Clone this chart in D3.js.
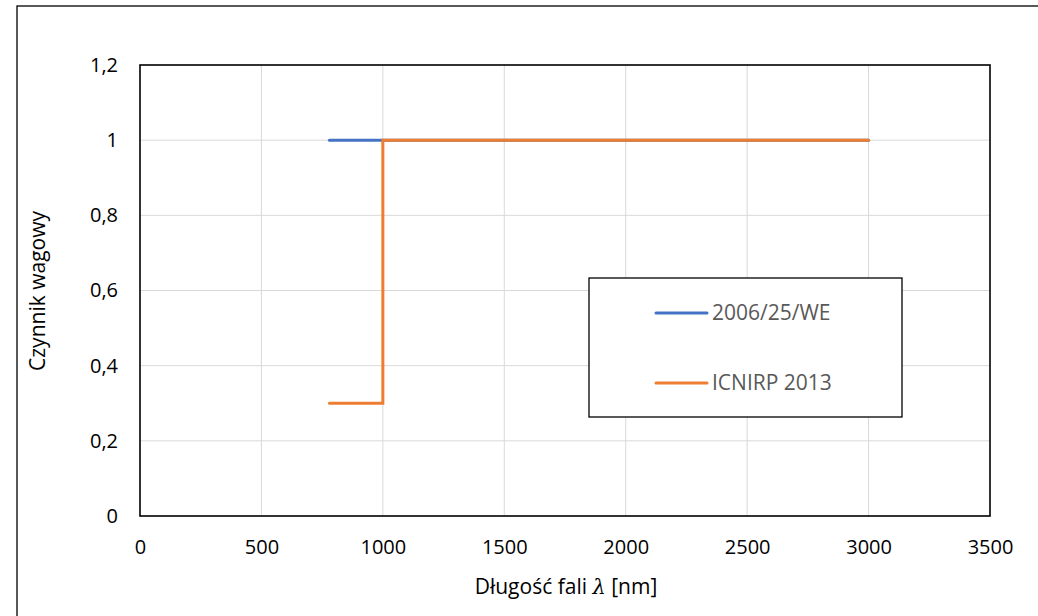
<!DOCTYPE html>
<html>
<head>
<meta charset="utf-8">
<script src="https://cdn.jsdelivr.net/npm/d3@7"></script>
<style>
  body { margin: 0; background: #fff; }
  text { font-family: "Open Sans", "Noto Sans", sans-serif; }
</style>
</head>
<body>
<svg id="chart" width="1038" height="616"></svg>
<script>
// data
const seriesNames = ["2006/25/WE", "ICNIRP 2013"];
const weX = [780, 1000, 3000];
const weY = [1, 1, 1];
const icnirpX = [780, 1000, 1000, 3000];
const icnirpY = [0.3, 0.3, 1, 1];
const xTicks = [0, 500, 1000, 1500, 2000, 2500, 3000, 3500];
const yTicks = [0, 0.2, 0.4, 0.6, 0.8, 1, 1.2];
const colors = ["#4472C4", "#ED7D31"];

const svg = d3.select("#chart");
const m = { left: 140, top: 65, right: 990, bottom: 516 };

// outer chart frame
svg.append("rect").attr("x", 17).attr("y", 6).attr("width", 1040).attr("height", 640)
  .attr("fill", "none").attr("stroke", "#000").attr("stroke-width", 1.3);

const x = d3.scaleLinear().domain([0, 3500]).range([m.left, m.right]);
const y = d3.scaleLinear().domain([0, 1.2]).range([m.bottom, m.top]);
const fmt = d => String(d).replace(".", ",");

// gridlines
svg.append("g").selectAll("line").data(xTicks.slice(1, -1)).join("line")
  .attr("x1", d => x(d)).attr("x2", d => x(d)).attr("y1", m.top).attr("y2", m.bottom)
  .attr("stroke", "#d9d9d9").attr("stroke-width", 1);
svg.append("g").selectAll("line").data(yTicks.slice(1, -1)).join("line")
  .attr("x1", m.left).attr("x2", m.right).attr("y1", d => y(d)).attr("y2", d => y(d))
  .attr("stroke", "#d9d9d9").attr("stroke-width", 1);

// axes (labels only)
const xAxis = svg.append("g").attr("transform", `translate(0,547)`)
  .call(d3.axisBottom(x).tickValues(xTicks).tickFormat(fmt).tickSize(0));
xAxis.selectAll("text").attr("y", 0).attr("dy", "0.35em");
const yAxis = svg.append("g").attr("transform", `translate(121,0)`)
  .call(d3.axisLeft(y).tickValues(yTicks).tickFormat(fmt).tickSize(0));
[xAxis, yAxis].forEach(a => {
  a.select(".domain").remove();
  a.selectAll("text").attr("font-size", 20).attr("fill", "#000")
    .style("font-family", '"Open Sans", sans-serif');
});

// plot border
svg.append("rect").attr("x", m.left).attr("y", m.top)
  .attr("width", m.right - m.left).attr("height", m.bottom - m.top)
  .attr("fill", "none").attr("stroke", "#000").attr("stroke-width", 1.6);

// series
const line = d3.line().x(d => x(d[0])).y(d => y(d[1]));
const series = [d3.zip(weX, weY), d3.zip(icnirpX, icnirpY)];
series.forEach((s, i) => {
  svg.append("path").datum(s).attr("d", line).attr("fill", "none")
    .attr("stroke", colors[i]).attr("stroke-width", 3).attr("stroke-linecap", "round")
    .attr("stroke-linejoin", "miter");
});

// legend
svg.append("rect").attr("x", 589).attr("y", 278).attr("width", 313).attr("height", 139)
  .attr("fill", "#fff").attr("stroke", "#000").attr("stroke-width", 1.3);
seriesNames.forEach((n, i) => {
  const ly = 313 + i * 70;
  svg.append("line").attr("x1", 656).attr("x2", 707).attr("y1", ly).attr("y2", ly)
    .attr("stroke", colors[i]).attr("stroke-width", 3).attr("stroke-linecap", "round");
  svg.append("text").attr("x", 712).attr("y", ly).attr("dy", "0.35em")
    .attr("font-size", 21).attr("fill", "#595959").text(n);
});

// axis titles
const xt = svg.append("text").attr("x", 566).attr("y", 594).attr("text-anchor", "middle")
  .attr("font-size", 21).attr("fill", "#000");
xt.append("tspan").text("Długość fali ");
xt.append("tspan").attr("font-style", "italic").style("font-family", '"DejaVu Serif", serif').text("λ");
xt.append("tspan").text(" [nm]");
svg.append("text").attr("transform", "translate(45,291) rotate(-90)")
  .attr("text-anchor", "middle").attr("font-size", 21).attr("fill", "#000")
  .text("Czynnik wagowy");
</script>
</body>
</html>
